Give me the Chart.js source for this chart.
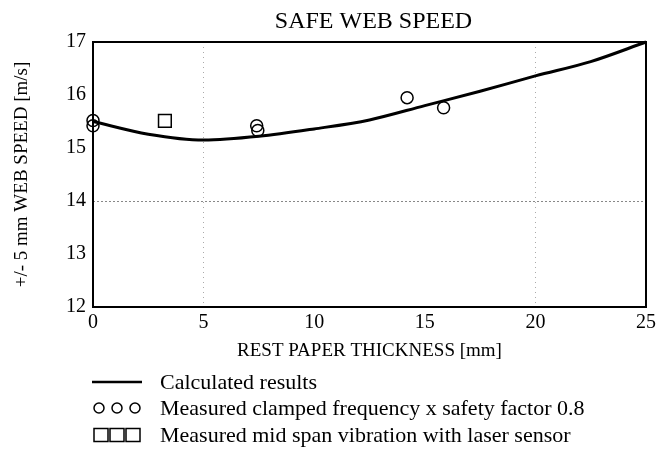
<!DOCTYPE html>
<html>
<head>
<meta charset="utf-8">
<script src="https://cdn.jsdelivr.net/npm/chart.js@4/dist/chart.umd.min.js"></script>
<style>
  html, body { margin: 0; padding: 0; background: #fff; }
  canvas { display: block; }
</style>
</head>
<body>
<canvas id="myChart" width="660" height="454"></canvas>
<script>
// calculated curve (thickness mm -> speed m/s)
const calcX = [0, 2.5, 5, 7.5, 10, 12.5, 15, 17.5, 20, 22.5, 25];
const calcY = [15.5, 15.26, 15.15, 15.22, 15.36, 15.53, 15.8, 16.07, 16.36, 16.63, 17.0];
// measured clamped frequency x 0.8 (circles)
const clampX = [0, 0, 7.4, 7.45, 14.2, 15.85];
const clampY = [15.52, 15.42, 15.42, 15.33, 15.95, 15.76];
// measured mid span vibration (squares)
const laserX = [3.25];
const laserY = [15.51];

const chartTitle = "SAFE WEB SPEED";
const legendLabels = [
  "Calculated results",
  "Measured clamped frequency x safety factor 0.8",
  "Measured mid span vibration with laser sensor"
];

const serif = "'Liberation Serif', 'Times New Roman', serif";

function pts(xs, ys) {
  return xs.map((x, i) => ({ x: x, y: ys[i] }));
}

// title over the plot, frame round it, legend under the axis title
const framePlugin = {
  id: "frame",
  afterDraw(chart) {
    const ctx = chart.ctx;
    const a = chart.chartArea;
    ctx.save();
    ctx.fillStyle = "#000";
    ctx.font = "24px " + serif;
    ctx.textAlign = "center";
    ctx.textBaseline = "middle";
    ctx.fillText(chartTitle, (a.left + a.right) / 2 + 4, 22);

    ctx.strokeStyle = "#000";
    ctx.lineWidth = 2;
    ctx.strokeRect(a.left, a.top, a.right - a.left, a.bottom - a.top);

    const rows = [382, 408, 435];
    ctx.font = "22px " + serif;
    ctx.textAlign = "left";
    // line sample
    ctx.beginPath();
    ctx.moveTo(92, rows[0]);
    ctx.lineTo(142, rows[0]);
    ctx.lineWidth = 2.5;
    ctx.stroke();
    ctx.lineWidth = 1.5;
    [99, 117, 135].forEach(cx => {
      ctx.beginPath();
      ctx.arc(cx, rows[1], 5, 0, Math.PI * 2);
      ctx.stroke();
    });
    [101, 117, 133].forEach(cx => {
      ctx.strokeRect(cx - 7, rows[2] - 6.5, 14, 13);
    });
    legendLabels.forEach((t, i) => ctx.fillText(t, 160, rows[i] + 1));
    ctx.restore();
  }
};

const data = {
  datasets: [
    {
      label: legendLabels[0],
      data: pts(calcX, calcY),
      showLine: true,
      borderColor: "#000",
      borderWidth: 3,
      pointRadius: 0,
      cubicInterpolationMode: "monotone",
      clip: false
    },
    {
      label: legendLabels[1],
      data: pts(clampX, clampY),
      pointStyle: "circle",
      pointRadius: 6,
      pointBorderWidth: 1.5,
      borderColor: "#000",
      backgroundColor: "rgba(0,0,0,0)",
      clip: false
    },
    {
      label: legendLabels[2],
      data: pts(laserX, laserY),
      pointStyle: "rect",
      pointRadius: 9,
      pointBorderWidth: 1.5,
      borderColor: "#000",
      backgroundColor: "rgba(0,0,0,0)",
      clip: false
    }
  ]
};

const options = {
  responsive: false,
  animation: false,
  layout: { padding: { top: 42, right: 12, bottom: 92, left: 0 } },
  plugins: {
    legend: { display: false },
    tooltip: { enabled: false },
    title: { display: false }
  },
  scales: {
    x: {
      type: "linear",
      min: 0,
      max: 25,
      afterFit: s => { s.height = 55; },
      ticks: { stepSize: 5, color: "#000", font: { family: serif, size: 20 }, padding: 4, maxRotation: 0 },
      grid: {
        drawTicks: false,
        color: c => (c.tick.value === 20 || c.tick.value === 5) ? "#aaa" : "rgba(0,0,0,0)",
        lineWidth: 1
      },
      border: { display: false, dash: [1, 4] },
      title: {
        display: true,
        text: "REST PAPER THICKNESS [mm]",
        color: "#000",
        font: { family: serif, size: 19 },
        padding: { top: 0, bottom: 0 }
      }
    },
    y: {
      min: 12,
      max: 17,
      afterFit: s => { s.width = 93; },
      ticks: { stepSize: 1, color: "#000", font: { family: serif, size: 20 }, padding: 7 },
      grid: {
        drawTicks: false,
        color: c => c.tick.value === 14 ? "#888" : "rgba(0,0,0,0)",
        lineWidth: 1
      },
      border: { display: false, dash: [2, 2] },
      title: {
        display: true,
        text: "+/- 5 mm WEB SPEED [m/s]",
        color: "#000",
        font: { family: serif, size: 19 },
        padding: { top: 11, bottom: 0 }
      }
    }
  }
};

const config = {
  type: "scatter",
  data: data,
  options: options,
  plugins: [framePlugin]
};

const myChart = new Chart(document.getElementById("myChart"), config);
</script>
</body>
</html>
